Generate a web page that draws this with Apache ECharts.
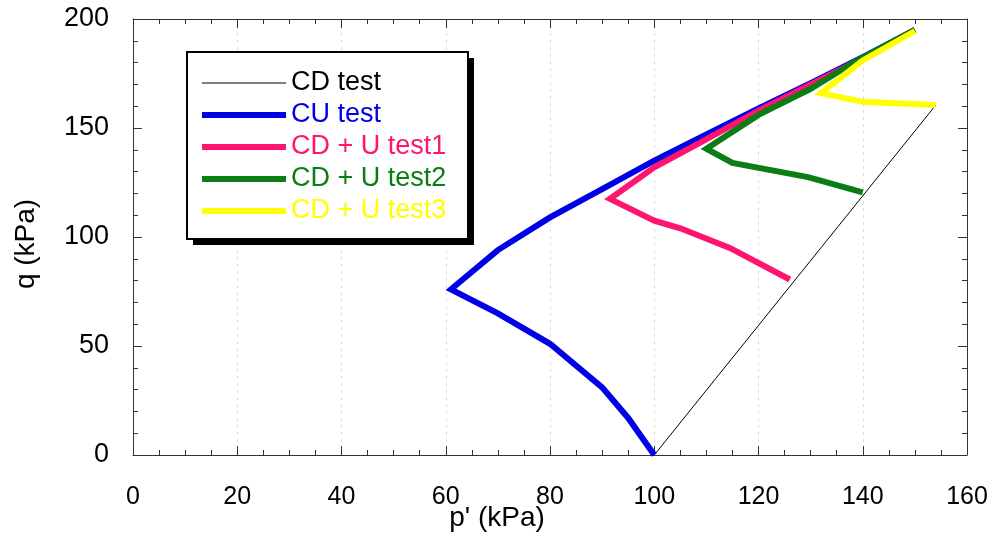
<!DOCTYPE html>
<html>
<head>
<meta charset="utf-8">
<script src="https://cdn.jsdelivr.net/npm/echarts@6/dist/echarts.min.js"></script>
<style>
html,body{margin:0;padding:0;background:#fff;}
#chart{width:992px;height:539px;}
</style>
</head>
<body>
<div id="chart"></div>
<script>
// Data (p' in kPa, q in kPa)
var seriesNames = ['CD test', 'CU test', 'CD + U test1', 'CD + U test2', 'CD + U test3'];
var cdTest = [[100, 0], [154, 160.5]];
var cuTest = [[100, 0], [95, 17], [90, 31], [80, 51], [70, 65], [61, 76], [70, 94], [80, 109], [90, 122], [100, 135], [110, 147], [120, 159], [130, 170.5], [140, 182.5], [150, 195]];
var cdu1 = [[126, 80.5], [114.5, 95], [105, 104], [100, 107.5], [91.5, 117.5], [100, 132], [109, 143.5], [120, 158], [130, 170], [140, 182], [150, 195]];
var cdu2 = [[140, 120.5], [129.5, 127.5], [115, 134], [110, 140.5], [120, 156], [130, 168], [137.5, 179], [143, 186], [150, 195]];
var cdu3 = [[154, 160.5], [140, 162], [132, 166], [140, 181], [150, 194.5]];
var xTicks = [0, 20, 40, 60, 80, 100, 120, 140, 160];
var yTicks = [0, 50, 100, 150, 200];

var colors = ['#000000', '#0000e6', '#ff1470', '#0a7d14', '#ffff00'];
var widths = [1, 6, 6, 6, 6];
var datasets = [cdTest, cuTest, cdu1, cdu2, cdu3];
var FONT = 'Liberation Sans, Arial, sans-serif';

var chart = echarts.init(document.getElementById('chart'));
var axisLineStyle = {color: '#333', width: 1};

function xAx(pos, showLabel) {
  return {
    type: 'value', position: pos, min: xTicks[0], max: xTicks[xTicks.length - 1], interval: xTicks[1] - xTicks[0],
    axisLine: {show: true, onZero: false, lineStyle: axisLineStyle},
    axisTick: {show: true, inside: true, length: 9, lineStyle: {color: '#333'}},
    minorTick: {show: true, splitNumber: 4, length: 5, lineStyle: {color: '#333'}},
    axisLabel: {show: showLabel, fontSize: 25, color: '#000', fontFamily: FONT, margin: 30},
    splitLine: {show: showLabel, lineStyle: {color: '#dcdcdc', type: [3, 4], width: 1}},
    name: showLabel ? "p' (kPa)" : '', nameLocation: 'middle', nameGap: 49, nameMoveOverlap: false,
    nameTextStyle: {fontSize: 28, color: '#000', fontFamily: FONT, padding: [0, 106, 0, 0]}
  };
}
function yAx(pos, showLabel) {
  return {
    type: 'value', position: pos, min: yTicks[0], max: yTicks[yTicks.length - 1], interval: yTicks[1] - yTicks[0],
    axisLine: {show: true, onZero: false, lineStyle: axisLineStyle},
    axisTick: {show: true, inside: true, length: 9, lineStyle: {color: '#333'}},
    minorTick: {show: true, splitNumber: 5, length: 5, lineStyle: {color: '#333'}},
    axisLabel: {show: showLabel, fontSize: 27, color: '#000', fontFamily: FONT, margin: 24},
    splitLine: {show: false},
    name: showLabel ? 'q (kPa)' : '', nameLocation: 'middle', nameGap: 93, nameRotate: 90, nameMoveOverlap: false,
    nameTextStyle: {fontSize: 28, color: '#000', fontFamily: FONT, padding: [0, 14, 0, 0]}
  };
}

var series = datasets.map(function (d, i) {
  return {
    name: seriesNames[i], type: 'line', data: d, xAxisIndex: 0, yAxisIndex: 0,
    symbol: 'none', showSymbol: false, smooth: false, animation: false,
    lineStyle: {color: colors[i], width: widths[i], join: 'miter'},
    itemStyle: {color: colors[i]}, z: 2 + i
  };
});

chart.setOption({
  animation: false,
  backgroundColor: '#fff',
  grid: {left: 133, right: 25, top: 19, bottom: 84, containLabel: false, outerBoundsMode: 'none'},
  xAxis: [xAx('bottom', true), xAx('top', false)],
  yAxis: [yAx('left', true), yAx('right', false)],
  graphic: [
    {type: 'rect', z: 50, shape: {x: 193, y: 58, width: 281, height: 187}, style: {fill: '#000'}},
    {type: 'rect', z: 51, shape: {x: 187, y: 52, width: 281, height: 187}, style: {fill: '#fff', stroke: '#000', lineWidth: 2}}
  ],
  legend: {
    z: 60,
    orient: 'vertical', left: 202, top: 67, padding: 0,
    itemWidth: 84, itemHeight: 6, itemGap: 0,
    selectedMode: false, symbolKeepAspect: true,
    textStyle: {fontSize: 27, lineHeight: 32, fontFamily: FONT},
    data: seriesNames.map(function (n, i) {
      return {
        name: n,
        icon: i === 0 ? 'path://M0,0L84,0L84,1L0,1Z' : 'rect',
        itemStyle: {color: colors[i], borderWidth: 0},
        textStyle: {color: colors[i]}
      };
    })
  },
  series: series
});
</script>
</body>
</html>
